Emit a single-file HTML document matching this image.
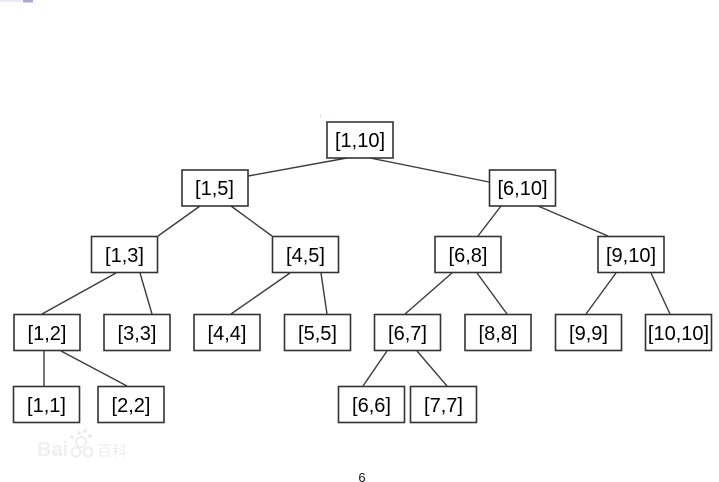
<!DOCTYPE html>
<html>
<head>
<meta charset="utf-8">
<style>
html,body{margin:0;padding:0;background:#fff;}
body{width:719px;height:482px;overflow:hidden;position:relative;}
svg{position:absolute;left:0;top:0;}
text{font-family:"Liberation Sans",sans-serif;}
.n{font-size:20px;fill:#000;text-anchor:middle;}
rect.b{fill:#fff;stroke:#333;stroke-width:1.6;}
line{stroke:#3c3c3c;stroke-width:1.4;}
</style>
</head>
<body>
<svg width="719" height="482" viewBox="0 0 719 482">
<rect x="0" y="0" width="22" height="2" fill="#ecebf5"/>
<rect x="23" y="0" width="10" height="2.5" fill="#a9a7cf"/>
<rect x="320" y="115" width="1" height="3" fill="#bfe3f5"/>

<line x1="347" y1="158" x2="248" y2="176"/>
<line x1="370" y1="158" x2="489" y2="182"/>
<line x1="200" y1="206" x2="158" y2="236"/>
<line x1="231" y1="206" x2="272" y2="236"/>
<line x1="501" y1="206" x2="478" y2="236"/>
<line x1="538" y1="206" x2="608" y2="236"/>
<line x1="116" y1="273" x2="42" y2="314"/>
<line x1="140" y1="273" x2="152" y2="314"/>
<line x1="290" y1="273" x2="231" y2="314"/>
<line x1="321" y1="273" x2="327" y2="314"/>
<line x1="452" y1="273" x2="405" y2="314"/>
<line x1="477" y1="273" x2="507" y2="314"/>
<line x1="616" y1="273" x2="586" y2="314"/>
<line x1="651" y1="273" x2="670" y2="314"/>
<line x1="44" y1="351" x2="44" y2="386"/>
<line x1="61" y1="351" x2="127" y2="386"/>
<line x1="387" y1="351" x2="363" y2="386"/>
<line x1="417" y1="351" x2="447" y2="386"/>

<rect class="b" x="327" y="122" width="66" height="36"/><text class="n" x="360" y="147">[1,10]</text>
<rect class="b" x="182" y="170" width="66" height="36"/><text class="n" x="214.500" y="195">[1,5]</text>
<rect class="b" x="489.500" y="170" width="66" height="36"/><text class="n" x="522.500" y="195">[6,10]</text>
<rect class="b" x="91.500" y="236.500" width="66" height="36"/><text class="n" x="124.500" y="262">[1,3]</text>
<rect class="b" x="272.500" y="236.500" width="66" height="36"/><text class="n" x="305.500" y="262">[4,5]</text>
<rect class="b" x="435" y="236.500" width="66" height="36"/><text class="n" x="468" y="262">[6,8]</text>
<rect class="b" x="598" y="236.500" width="66" height="36"/><text class="n" x="631" y="262">[9,10]</text>
<rect class="b" x="14" y="314.500" width="66" height="36"/><text class="n" x="47" y="340">[1,2]</text>
<rect class="b" x="104" y="314.500" width="66" height="36"/><text class="n" x="137" y="340">[3,3]</text>
<rect class="b" x="194" y="314.500" width="66" height="36"/><text class="n" x="227" y="340">[4,4]</text>
<rect class="b" x="284.500" y="314.500" width="66" height="36"/><text class="n" x="317.500" y="340">[5,5]</text>
<rect class="b" x="374.500" y="314.500" width="66" height="36"/><text class="n" x="407.500" y="340">[6,7]</text>
<rect class="b" x="465" y="314.500" width="66" height="36"/><text class="n" x="498" y="340">[8,8]</text>
<rect class="b" x="555.500" y="314.500" width="66" height="36"/><text class="n" x="588.500" y="340">[9,9]</text>
<rect class="b" x="645.500" y="314.500" width="66" height="36"/><text class="n" x="678.500" y="340">[10,10]</text>
<rect class="b" x="13.500" y="386.500" width="66" height="36"/><text class="n" x="46.500" y="412">[1,1]</text>
<rect class="b" x="98" y="386.500" width="66" height="36"/><text class="n" x="131" y="412">[2,2]</text>
<rect class="b" x="338.500" y="386.500" width="66" height="36"/><text class="n" x="371.500" y="412">[6,6]</text>
<rect class="b" x="410.500" y="386.500" width="66" height="36"/><text class="n" x="443.500" y="412">[7,7]</text>

<text x="37" y="456" font-size="20" font-weight="bold" fill="#f0f0f0">Bai</text>
<circle cx="85" cy="431" r="2" fill="#ededed"/>
<circle cx="79" cy="433" r="2" fill="#ededed"/>
<circle cx="90" cy="436" r="2" fill="#ededed"/>
<circle cx="72" cy="437" r="2" fill="#ededed"/>
<circle cx="81" cy="442" r="5" fill="none" stroke="#ededed" stroke-width="2"/>
<circle cx="76" cy="452" r="4.500" fill="none" stroke="#ededed" stroke-width="2"/>
<circle cx="88" cy="452" r="4.500" fill="none" stroke="#ededed" stroke-width="2"/>
<text x="97" y="456" font-size="15" fill="#ededed" style="font-family:'Liberation Sans','Noto Sans CJK SC',sans-serif">百科</text>

<text x="362" y="482" font-size="13" fill="#111" text-anchor="middle">6</text>
</svg>
</body>
</html>
